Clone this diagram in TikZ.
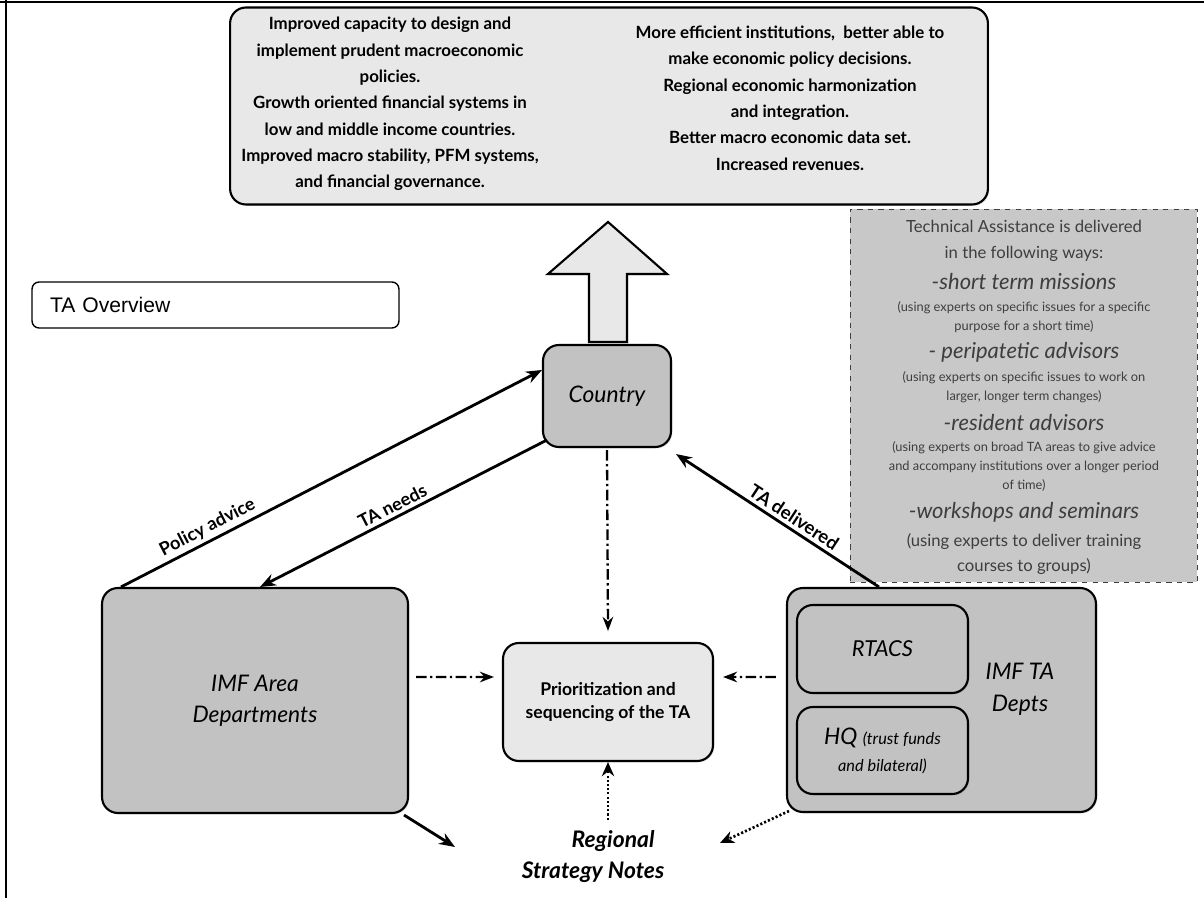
\documentclass[tikz,border=0pt]{standalone}
\usepackage{fontspec}
\setmainfont{Lato}
\newfontfamily\arialfont{Liberation Sans}
\usepackage{tikz}
\usetikzlibrary{arrows.meta,shadows}
\definecolor{gray200}{HTML}{E8E8E8}
\definecolor{gray400}{HTML}{C2C2C2}
\definecolor{gray450}{HTML}{C8C8C8}
\definecolor{gray800}{HTML}{3E3E3E}
\tikzstyle{darkbox}=[draw=black, line width=1.2pt, fill=gray400, rounded corners=9pt, align=center, inner sep=2pt, drop shadow={opacity=0.25, shadow xshift=0.8pt, shadow yshift=-0.8pt}]
\tikzstyle{lightbox}=[darkbox, fill=gray200]
\tikzstyle{toptext}=[align=center, inner sep=0pt, font=\bfseries\fontsize{9.6}{15}\selectfont]
\tikzstyle{waystext}=[align=center, inner sep=0pt, text=gray800]
\tikzstyle{waysmode}=[waystext, font=\itshape\fontsize{12.5}{15}\selectfont]
\tikzstyle{waysnote}=[waystext, font=\fontsize{7.3}{10.8}\selectfont]
\tikzstyle{solidarrow}=[line width=1.6pt, -{Stealth[length=9pt, width=7pt]}]
\tikzstyle{dashdotarrow}=[line width=1.3pt, dash pattern=on 6pt off 2pt on 1.3pt off 2pt, -{Stealth[length=8pt, width=6pt]}]
\tikzstyle{dottedarrow}=[line width=1.5pt, dash pattern=on 1.2pt off 1.2pt, -{Stealth[length=8pt, width=7pt]}]
\tikzstyle{arrowlabel}=[font=\bfseries\fontsize{10.3}{12}\selectfont, inner sep=2pt]

\begin{document}
\begin{tikzpicture}[x=0.02cm, y=-0.02cm]
	\useasboundingbox (0,0) rectangle (1204,898);
	\draw[line width=1.4pt] (0,2) -- (1204,2) (6,0) -- (6,898);
	% outcomes
	\node[lightbox, minimum width=15.16cm, minimum height=3.94cm] (outcomes) at (609,106) {};
	\node[toptext] (outleft) at (390,104) {Improved capacity to design and\\implement prudent macroeconomic\\policies.\\Growth oriented financial systems in\\low and middle income countries.\\Improved macro stability, PFM systems,\\and financial governance.};
	\node[toptext] (outright) at (790,98) {More efficient institutions,\ \ better able to\\make economic policy decisions.\\Regional economic harmonization\\and integration.\\Better macro economic data set.\\Increased revenues.};
	% title
	\node[draw=black, line width=0.8pt, rounded corners=4pt, minimum height=0.92cm, text width=6.62cm, inner xsep=0.36cm, align=left, font=\arialfont\fontsize{12}{14}\selectfont] (overview) at (215.5,305) {TA Overview};
	% ways of delivery
	\node[draw=gray800, dashed, line width=0.5pt, fill=gray450, minimum width=6.94cm, minimum height=7.46cm] (ways) at (1023.5,395.5) {};
	\node[waystext, font=\fontsize{9.5}{14.7}\selectfont] (wayshead) at (1024,241) {Technical Assistance is delivered\\in the following ways:};
	\node[waysmode] (short) at (1024,282) {-short term missions};
	\node[waysnote] (shortnote) at (1024,317.5) {(using experts on specific issues for a specific\\purpose for a short time)};
	\node[waysmode] (peri) at (1024,352) {- peripatetic advisors};
	\node[waysnote] (perinote) at (1024,387.5) {(using experts on specific issues to work on\\larger, longer term changes)};
	\node[waysmode] (resident) at (1024,423) {-resident advisors};
	\node[waysnote] (residentnote) at (1024,466.5) {(using experts on broad TA areas to give advice\\and accompany institutions over a longer period\\of time)};
	\node[waysmode] (workshop) at (1024,512) {-workshops and seminars};
	\node[waystext, font=\fontsize{9.5}{14.2}\selectfont] (workshopnote) at (1024,554.5) {(using experts to deliver training\\courses to groups)};
	% actors
	\node[darkbox, minimum width=2.56cm, minimum height=2.04cm, font=\itshape\fontsize{13}{15}\selectfont] (country) at (607,396) {Country};
	\node[darkbox, minimum width=6.12cm, minimum height=4.5cm, font=\itshape\fontsize{13}{17.5}\selectfont] (area) at (255,700.5) {IMF Area\\Departments};
	\node[lightbox, minimum width=4.2cm, minimum height=2.36cm, font=\bfseries\fontsize{10}{13}\selectfont] (prio) at (608,702) {Prioritization and\\sequencing of the TA};
	\node[darkbox, minimum width=6.18cm, minimum height=4.48cm] (tadepts) at (941.5,700) {};
	\node[align=center, font=\itshape\fontsize{13}{18}\selectfont] (tadeptslabel) at (1020,689) {IMF TA\\Depts};
	\node[darkbox, minimum width=3.42cm, minimum height=1.76cm, font=\itshape\fontsize{12.5}{15}\selectfont] (rtacs) at (882.5,649) {RTACS};
	\node[darkbox, minimum width=3.42cm, minimum height=1.74cm, font=\itshape\fontsize{13}{15.3}\selectfont] (hq) at (882.5,750.5) {HQ {\fontsize{9.3}{11}\selectfont(trust funds}\\{\fontsize{9.3}{11}\selectfont and bilateral)}};
	\node[align=center, font=\bfseries\itshape\fontsize{13}{17.6}\selectfont] (regional) at (593,857) {\hspace*{0.8cm}Regional\\Strategy Notes};
	\coordinate (rsnleft) at (455,847);
	\coordinate (rsnright) at (720,843);
	% connectors
	\draw[line width=1.2pt, fill=gray200, drop shadow={opacity=0.25, shadow xshift=0.8pt, shadow yshift=-0.8pt}] ([xshift=-0.36cm, yshift=0.04cm]country.north) -- ++(0,-68) -- ++(-41,0) -- ++(60,-52) -- ++(59,52) -- ++(-40,0) -- ++(0,68) -- cycle;
	\draw[solidarrow] ([xshift=0.4cm]area.north west) -- ([yshift=0.52cm]country.west) node[arrowlabel, pos=0.22, above, sloped] {Policy advice};
	\draw[solidarrow] ([xshift=0.1cm, yshift=-0.88cm]country.west) -- ([xshift=0.1cm]area.north) node[arrowlabel, pos=0.52, above, sloped] {TA needs};
	\draw[solidarrow] ([xshift=1.86cm]tadepts.north west) -- ([xshift=0.08cm, yshift=-0.12cm]country.south east) node[arrowlabel, font=\bfseries\fontsize{10.5}{12}\selectfont, pos=0.45, above, sloped] {TA delivered};
	\draw[dashdotarrow] ([yshift=-0.04cm]country.south) -- ([yshift=0.22cm]prio.north);
	\draw[dashdotarrow] ([xshift=0.14cm, yshift=0.47cm]area.east) -- ([xshift=-0.16cm, yshift=0.5cm]prio.west);
	\draw[dashdotarrow] ([xshift=-0.2cm, yshift=0.46cm]tadepts.west) -- ([xshift=0.18cm, yshift=0.5cm]prio.east);
	\draw[dottedarrow] ([yshift=0.1cm]prio.south |- regional.north) -- (prio.south);
	\draw[solidarrow] ([xshift=-0.1cm, yshift=-0.02cm]area.south east) -- (rsnleft);
	\draw[dottedarrow] ([xshift=0.06cm, yshift=0.04cm]tadepts.south west) -- (rsnright);
\end{tikzpicture}
\end{document}
